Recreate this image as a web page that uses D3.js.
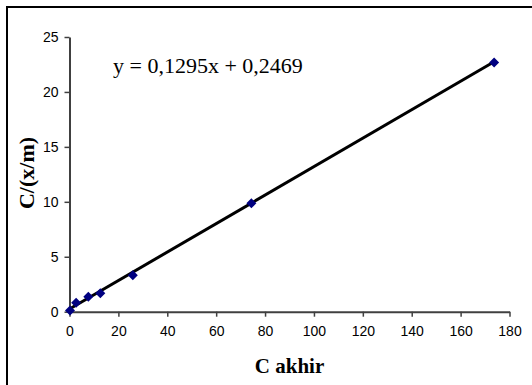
<!DOCTYPE html>
<html><head><meta charset="utf-8">
<script src="https://cdn.jsdelivr.net/npm/d3@7"></script>
<style>html,body{margin:0;background:#fff;overflow:hidden}svg{display:block}</style>
</head><body>
<script>
const cAkhir = [0.2, 2.7, 7.7, 12.6, 25.9, 74.4, 173.7];
const cPerXm = [0.1, 0.82, 1.37, 1.67, 3.31, 9.86, 22.69];
const xTicks = [0, 20, 40, 60, 80, 100, 120, 140, 160, 180];
const yTicks = [0, 5, 10, 15, 20, 25];
const slope = 0.1295, intercept = 0.2469;
const equationLabel = "y = 0,1295x + 0,2469";
const xTitle = "C akhir", yTitle = "C/(x/m)";

const W = 532, H = 385;
const svg = d3.select("body").append("svg").attr("width", W).attr("height", H);
svg.append("path").attr("d", `M7,${H + 5} V7 H${W + 5}`)
  .attr("fill", "none").attr("stroke", "#000").attr("stroke-width", 2);

const x = d3.scaleLinear().domain([0, 180]).range([69.5, 509.5]);
const y = d3.scaleLinear().domain([0, 25]).range([311.7, 37]);
const axisColor = "#404040";

const gx = svg.append("g").attr("transform", `translate(0,${y(0)})`)
  .call(d3.axisBottom(x).tickValues(xTicks).tickSize(5).tickSizeOuter(0).tickPadding(9));
const gy = svg.append("g").attr("transform", `translate(${x(0)},0)`)
  .call(d3.axisLeft(y).tickValues(yTicks).tickSize(5).tickSizeOuter(0).tickPadding(6));
[gx, gy].forEach(g => {
  g.select(".domain").attr("stroke", axisColor).attr("stroke-width", 2);
  g.selectAll(".tick line").attr("stroke", axisColor).attr("stroke-width", 1.5);
  g.selectAll(".tick text").attr("fill", "#000").style("font-family", "Liberation Sans, Arial, sans-serif").style("font-size", "14px");
});

const xmax = d3.max(cAkhir);
svg.append("line").attr("x1", x(0)).attr("y1", y(intercept)).attr("x2", x(xmax)).attr("y2", y(slope * xmax + intercept))
  .attr("stroke", "#000").attr("stroke-width", 3);

const data = cAkhir.map((d, i) => [d, cPerXm[i]]);
svg.selectAll("path.pt").data(data).enter().append("path").attr("class", "pt")
  .attr("d", d3.symbol().type(d3.symbolSquare).size(50)())
  .attr("transform", d => `translate(${x(d[0])},${y(d[1])}) rotate(45)`)
  .attr("fill", "#000080");

svg.append("text").attr("x", 113).attr("y", 73).text(equationLabel)
  .style("font-family", "Liberation Serif, Times New Roman, serif").style("font-size", "22px");

svg.append("text").attr("x", (x(0) + x(180)) / 2).attr("y", 373).attr("text-anchor", "middle").text(xTitle)
  .style("font-family", "Liberation Serif, Times New Roman, serif").style("font-size", "21px").style("font-weight", "bold");
svg.append("text").attr("transform", `translate(34,173) rotate(-90)`).attr("text-anchor", "middle").text(yTitle)
  .style("font-family", "Liberation Serif, Times New Roman, serif").style("font-size", "22px").style("font-weight", "bold");
</script>
</body></html>
